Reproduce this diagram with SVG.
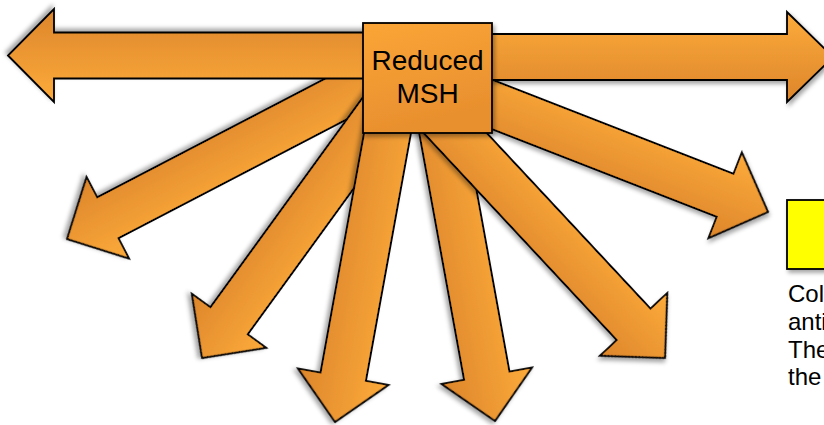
<svg xmlns="http://www.w3.org/2000/svg" width="824" height="425" viewBox="0 0 824 425">
  <defs>
    <linearGradient id="ag" x1="0" y1="0" x2="0" y2="1">
      <stop offset="0" stop-color="#fdab3b"/>
      <stop offset="1" stop-color="#dc852b"/>
    </linearGradient>
    <linearGradient id="bg" x1="0" y1="0" x2="0.3" y2="1">
      <stop offset="0" stop-color="#fba537"/>
      <stop offset="1" stop-color="#e88f2e"/>
    </linearGradient>
    <filter id="sh" x="-20%" y="-20%" width="140%" height="140%">
      <feDropShadow dx="2" dy="3" stdDeviation="2" flood-color="#000" flood-opacity="0.35"/>
    </filter>
    <style>
      .arr { fill: url(#ag); stroke: #000; stroke-width: 1.8; stroke-linejoin: miter; filter: url(#sh); }
      .box { fill: url(#bg); stroke: #000; stroke-width: 1.8; filter: url(#sh); }
      .ybox { fill: #ffff00; stroke: #000; stroke-width: 1.8; filter: url(#sh); }
      .lbl { font-family: "Liberation Sans", Arial, sans-serif; fill: #000; }
    </style>
  </defs>

  <g id="connectors">
    <path class="arr" transform="translate(67,239) rotate(152.5)" d="M0,0 L-46,-46 L-46,-23 L-395,-23 L-395,23 L-46,23 L-46,46 Z"/>
    <path class="arr" transform="translate(202,358) rotate(126)" d="M0,0 L-46,-46 L-46,-23 L-344,-23 L-344,23 L-46,23 L-46,46 Z"/>
    <path class="arr" transform="translate(335,422) rotate(100.3)" d="M0,0 L-46,-46 L-46,-23 L-340,-23 L-340,23 L-46,23 L-46,46 Z"/>
    <path class="arr" transform="translate(495,421) rotate(79.7)" d="M0,0 L-46,-46 L-46,-23 L-340,-23 L-340,23 L-46,23 L-46,46 Z"/>
    <path class="arr" transform="translate(665,358) rotate(47)" d="M0,0 L-46,-46 L-46,-23 L-360,-23 L-360,23 L-46,23 L-46,46 Z"/>
    <path class="arr" transform="translate(768,212) rotate(21.3)" d="M0,0 L-46,-46 L-46,-23 L-340,-23 L-340,23 L-46,23 L-46,46 Z"/>
    <path class="arr" transform="translate(8,55.5) rotate(180)" d="M0,0 L-46,-46.5 L-46,-23 L-420,-23 L-420,23 L-46,23 L-46,46.5 Z"/>
    <path class="arr" transform="translate(833,57) rotate(0)" d="M0,0 L-46,-45 L-46,-23 L-405,-23 L-405,23 L-46,23 L-46,45 Z"/>
  </g>

  <g id="reduced-msh">
    <rect class="box" x="363" y="23" width="129" height="110"/>
    <text class="lbl" x="427.5" y="70" font-size="28" text-anchor="middle">Reduced</text>
    <text class="lbl" x="427.5" y="103" font-size="28" text-anchor="middle">MSH</text>
  </g>

  <g id="yellow-box">
    <rect class="ybox" x="787" y="200" width="60" height="69"/>
  </g>

  <g id="caption">
    <text class="lbl" x="788" y="302" font-size="24">Col</text>
    <text class="lbl" x="788" y="330" font-size="24">anti</text>
    <text class="lbl" x="788" y="358" font-size="24">The</text>
    <text class="lbl" x="788" y="385" font-size="24">the</text>
  </g>
</svg>
